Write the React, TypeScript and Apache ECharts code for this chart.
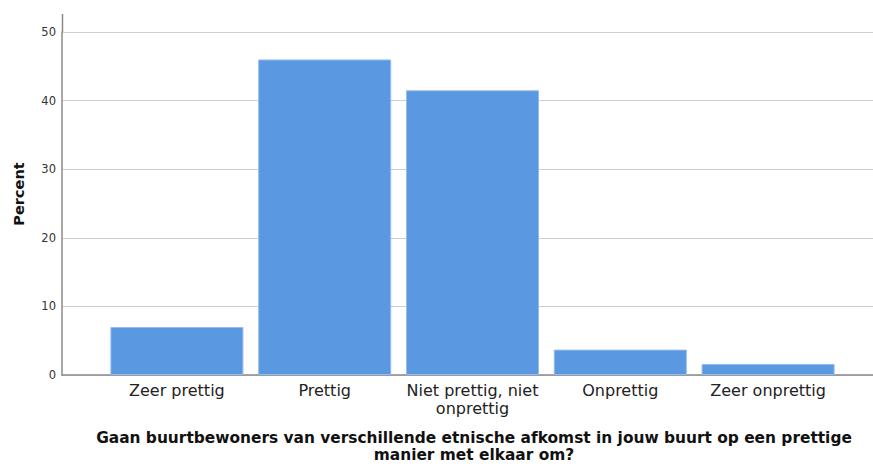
import React, { useEffect, useRef } from "react";
import * as echarts from "echarts";

const categories = [
  "Zeer prettig",
  "Prettig",
  "Niet prettig, niet\nonprettig",
  "Onprettig",
  "Zeer onprettig",
];
const percentValues = [7.0, 46.0, 41.5, 3.7, 1.6];
const yTicks = { min: 0, max: 50, interval: 10 };
const yAxisTitle = "Percent";
const xAxisTitle =
  "Gaan buurtbewoners van verschillende etnische afkomst in jouw buurt op een prettige\nmanier met elkaar om?";

const FONT = "'DejaVu Sans', Verdana, sans-serif";

export default function App() {
  const ref = useRef<HTMLDivElement>(null);
  useEffect(() => {
    document.body.style.margin = "0";
    const chart = echarts.init(ref.current!, null, { renderer: "svg" });
    chart.setOption({
      animation: false,
      backgroundColor: "#ffffff",
      grid: [
        { left: 62, right: 0, top: 32, bottom: 89 },
        { left: 103, right: 31, top: 32, bottom: 89 },
      ],
      xAxis: [
        {
          gridIndex: 0,
          type: "value",
          min: 0,
          max: 1,
          axisLine: { show: true, lineStyle: { color: "#8a8a8a", width: 1.5 } },
          axisTick: { show: false },
          axisLabel: { show: false },
          splitLine: { show: false },
        },
        {
          gridIndex: 1,
          type: "category",
          data: categories,
          axisLine: { show: false },
          axisTick: { show: false },
          axisLabel: {
            interval: 0,
            margin: 6,
            fontSize: 16,
            lineHeight: 18,
            color: "#222222",
            fontFamily: FONT,
          },
        },
      ],
      yAxis: [
        {
          gridIndex: 0,
          type: "value",
          min: yTicks.min,
          max: yTicks.max,
          interval: yTicks.interval,
          axisLine: { show: true, lineStyle: { color: "#8a8a8a", width: 1.5 } },
          axisTick: { show: false },
          axisLabel: {
            margin: 6,
            fontSize: 11.5,
            color: "#333333",
            fontFamily: FONT,
          },
          splitLine: { show: true, lineStyle: { color: "#cfcfcf", width: 1.2 } },
        },
        {
          gridIndex: 1,
          type: "value",
          min: yTicks.min,
          max: yTicks.max,
          show: false,
          splitLine: { show: false },
        },
      ],
      series: [
        {
          type: "bar",
          xAxisIndex: 1,
          yAxisIndex: 1,
          data: percentValues,
          barCategoryGap: "10%",
          itemStyle: {
            color: "#5a98e1",
            borderColor: "#94bcee",
            borderWidth: 1,
          },
        },
      ],
      graphic: [
        {
          type: "line",
          shape: { x1: 62.5, y1: 14, x2: 62.5, y2: 32 },
          style: { stroke: "#8a8a8a", lineWidth: 1.5 },
        },
        {
          type: "text",
          x: 19,
          y: 194,
          rotation: Math.PI / 2,
          style: {
            text: yAxisTitle,
            fontSize: 14.5,
            fontWeight: "bold",
            fontFamily: FONT,
            fill: "#111111",
            align: "center",
            verticalAlign: "middle",
          },
        },
        {
          type: "text",
          x: 474,
          y: 429,
          style: {
            text: xAxisTitle,
            fontSize: 15.4,
            lineHeight: 17,
            fontWeight: "bold",
            fontFamily: FONT,
            fill: "#111111",
            align: "center",
            verticalAlign: "top",
          },
        },
      ],
    });
    return () => chart.dispose();
  }, []);
  return <div ref={ref} style={{ width: 873, height: 464 }} />;
}
